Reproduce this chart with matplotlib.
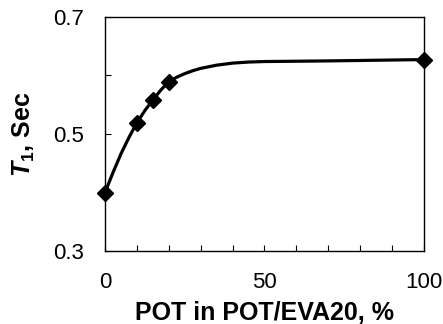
import matplotlib
matplotlib.use("Agg")
import matplotlib.pyplot as plt
from matplotlib.ticker import MultipleLocator

# measured points
pot_pct = [0, 10, 15, 20, 100]
t1_sec = [0.40, 0.519, 0.558, 0.589, 0.627]

# fitted curve
curve_x = [0, 2.5, 5, 7.5, 10, 12.5, 15, 17.5, 20, 22.5, 25, 27.5, 30, 35, 40, 45, 50, 60, 70, 80, 90, 100]
curve_y = [0.40, 0.434, 0.466, 0.494, 0.519, 0.540, 0.558, 0.575, 0.589, 0.597, 0.603, 0.608, 0.612, 0.6175, 0.621, 0.6228, 0.6237, 0.6242, 0.6248, 0.6255, 0.6263, 0.627]

xticks = [0, 50, 100]
yticks = [0.3, 0.5, 0.7]

plt.rcParams['font.family'] = ['Liberation Sans', 'DejaVu Sans']
plt.rcParams['mathtext.fontset'] = 'custom'
plt.rcParams['mathtext.it'] = 'Liberation Sans:italic:bold'
plt.rcParams['mathtext.rm'] = 'Liberation Sans:bold'
plt.rcParams['mathtext.bf'] = 'Liberation Sans:bold'

fig = plt.figure(figsize=(4.43, 3.24), dpi=100)
ax = fig.add_axes([0.237, 0.225, 0.72, 0.723])

ax.plot(curve_x, curve_y, color='black', lw=2.3, solid_capstyle='round', zorder=2)
ax.plot(pot_pct, t1_sec, linestyle='none', marker='D', ms=8, color='black', zorder=3, clip_on=False)

ax.set_xlim(0, 100)
ax.set_ylim(0.3, 0.7)
ax.set_xticks(xticks)
ax.set_xticklabels([str(v) for v in xticks])
ax.set_yticks(yticks)
ax.set_yticklabels([f"{v:.1f}" for v in yticks])
ax.xaxis.set_minor_locator(MultipleLocator(10))
ax.yaxis.set_minor_locator(MultipleLocator(0.1))
ax.tick_params(axis='both', which='both', direction='in', top=False, right=False)
ax.tick_params(axis='both', which='major', length=4, width=0.8, labelsize=16, pad=15)
ax.tick_params(axis='both', which='minor', length=4, width=0.8)
for s in ax.spines.values():
    s.set_linewidth(1.0)

ax.set_xlabel("POT in POT/EVA20, %", fontsize=18, fontweight='bold', labelpad=6)
ax.set_ylabel(r"$\mathit{T}_{\mathrm{1}}$, Sec", fontsize=18, fontweight='bold')
ax.yaxis.set_label_coords(-0.212, 0.5)

fig.savefig("out.png", dpi=100)
